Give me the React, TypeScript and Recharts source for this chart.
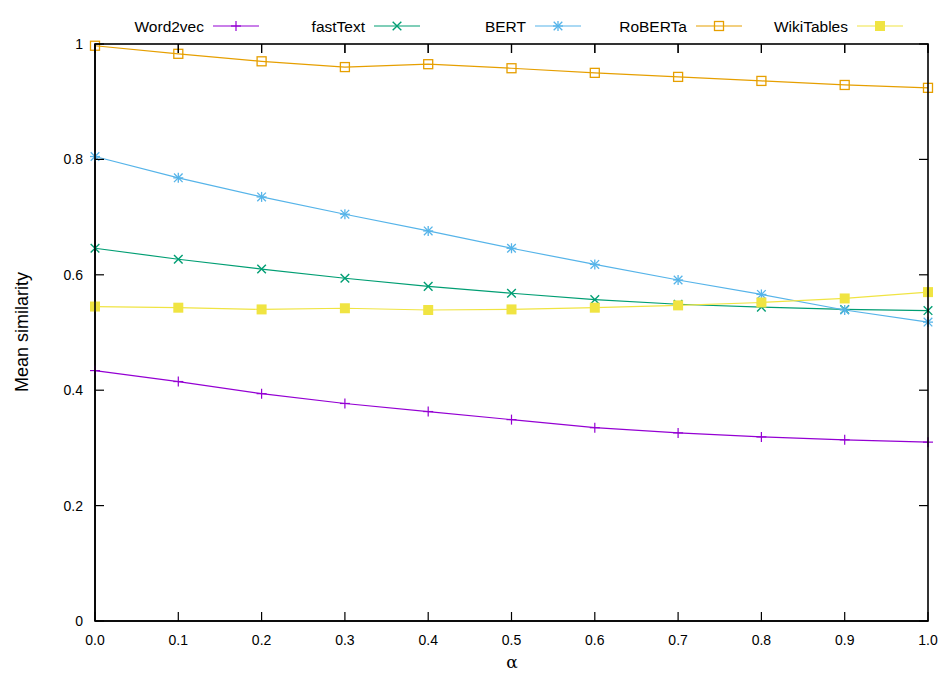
import { LineChart, Line, XAxis, YAxis } from "recharts"

// alpha values along the x axis
const alphas = [0, 0.1, 0.2, 0.3, 0.4, 0.5, 0.6, 0.7, 0.8, 0.9, 1.0]

// mean similarity per embedding model
const word2vec = [0.434, 0.415, 0.394, 0.377, 0.363, 0.349, 0.335, 0.326, 0.319, 0.314, 0.31]
const fastText = [0.646, 0.627, 0.61, 0.594, 0.58, 0.568, 0.557, 0.549, 0.544, 0.54, 0.538]
const bert = [0.805, 0.768, 0.735, 0.705, 0.676, 0.646, 0.618, 0.591, 0.566, 0.539, 0.518]
const roberta = [0.997, 0.983, 0.97, 0.96, 0.965, 0.958, 0.95, 0.943, 0.936, 0.929, 0.924]
const wikiTables = [0.545, 0.543, 0.54, 0.542, 0.539, 0.54, 0.543, 0.547, 0.552, 0.559, 0.57]

const xTicks = [0, 0.1, 0.2, 0.3, 0.4, 0.5, 0.6, 0.7, 0.8, 0.9, 1.0]
const yTicks = [0, 0.2, 0.4, 0.6, 0.8, 1]

type Shape = "plus" | "cross" | "star" | "square" | "filledSquare"

const series: { key: string; name: string; color: string; shape: Shape }[] = [
  { key: "word2vec", name: "Word2vec", color: "#9400d3", shape: "plus" },
  { key: "fastText", name: "fastText", color: "#009e73", shape: "cross" },
  { key: "bert", name: "BERT", color: "#56b4e9", shape: "star" },
  { key: "roberta", name: "RoBERTa", color: "#e69f00", shape: "square" },
  { key: "wikiTables", name: "WikiTables", color: "#f0e442", shape: "filledSquare" },
]

const data = alphas.map((alpha, i) => ({
  alpha,
  word2vec: word2vec[i],
  fastText: fastText[i],
  bert: bert[i],
  roberta: roberta[i],
  wikiTables: wikiTables[i],
}))

const W = 938
const H = 673
const X_AXIS_H = 52
const Y_AXIS_W = 95
const MARGIN = { top: 44, right: 10, bottom: 0, left: 0 }
// plot box, used for the border frame drawn over the chart
const PLOT_LEFT = MARGIN.left + Y_AXIS_W
const PLOT_TOP = MARGIN.top
const PLOT_RIGHT = W - MARGIN.right
const PLOT_BOTTOM = H - MARGIN.bottom - X_AXIS_H

const FONT = '"Liberation Sans", Arial, Helvetica, sans-serif'
const TICK = 9

function Marker({ shape, x, y, color }: { shape: Shape; x: number; y: number; color: string }) {
  const s = 5
  const d = 4.3
  const plus = (
    <>
      <line x1={x - s} y1={y} x2={x + s} y2={y} />
      <line x1={x} y1={y - s} x2={x} y2={y + s} />
    </>
  )
  const cross = (
    <>
      <line x1={x - d} y1={y - d} x2={x + d} y2={y + d} />
      <line x1={x - d} y1={y + d} x2={x + d} y2={y - d} />
    </>
  )
  switch (shape) {
    case "plus":
      return <g stroke={color} strokeWidth={1.2}>{plus}</g>
    case "cross":
      return <g stroke={color} strokeWidth={1.4}>{cross}</g>
    case "star":
      return (
        <g stroke={color} strokeWidth={1.3}>
          {plus}
          {cross}
        </g>
      )
    case "square":
      return <rect x={x - 4.5} y={y - 4.5} width={9} height={9} fill="none" stroke={color} strokeWidth={1.3} />
    case "filledSquare":
      return <rect x={x - 5} y={y - 5} width={10} height={10} fill={color} />
  }
}

// bottom tick also mirrors an inward tick on the top edge
function BottomTick({ x, y, payload }: any) {
  return (
    <g>
      <line x1={x} y1={y} x2={x} y2={y - TICK} stroke="#000" strokeWidth={1.2} />
      <line x1={x} y1={PLOT_TOP} x2={x} y2={PLOT_TOP + TICK} stroke="#000" strokeWidth={1.2} />
      <text x={x} y={y + 24} textAnchor="middle" fontSize={14} fontFamily={FONT} fill="#000">
        {Number(payload.value).toFixed(1)}
      </text>
    </g>
  )
}

function LeftTick({ x, y, payload }: any) {
  return (
    <g>
      <line x1={x} y1={y} x2={x + TICK} y2={y} stroke="#000" strokeWidth={1.2} />
      <line x1={PLOT_RIGHT} y1={y} x2={PLOT_RIGHT - TICK} y2={y} stroke="#000" strokeWidth={1.2} />
      <text x={x - 12} y={y + 5} textAnchor="end" fontSize={14} fontFamily={FONT} fill="#000">
        {String(payload.value)}
      </text>
    </g>
  )
}

function Annotations() {
  const span = PLOT_RIGHT - PLOT_LEFT
  return (
    <svg width={W} height={H} style={{ position: "absolute", left: 0, top: 0, pointerEvents: "none" }}>
      {series.map((s, i) => {
        const start = 213 + 161 * i
        const end = start + 46
        const mid = (start + end) / 2
        return (
          <g key={s.key}>
            <text x={start - 9} y={32} textAnchor="end" fontSize={15.5} fontFamily={FONT} fill="#000">
              {s.name}
            </text>
            <line x1={start} y1={26} x2={end} y2={26} stroke={s.color} strokeWidth={1.2} />
            <Marker shape={s.shape} x={mid} y={26} color={s.color} />
          </g>
        )
      })}
      <text transform="translate(28 332) rotate(-90)" textAnchor="middle" fontSize={18} fontFamily={FONT} fill="#000">
        Mean similarity
      </text>
      <text x={512} y={668} textAnchor="middle" fontSize={17} fontFamily='"DejaVu Serif", serif' fill="#000">
        α
      </text>
      {/* border frame with inward ticks along the top edge */}
      <rect
        x={PLOT_LEFT}
        y={PLOT_TOP}
        width={PLOT_RIGHT - PLOT_LEFT}
        height={PLOT_BOTTOM - PLOT_TOP}
        fill="none"
        stroke="#000"
        strokeWidth={1.6}
      />
      {xTicks.map((t) => (
        <line
          key={t}
          x1={PLOT_LEFT + t * span}
          y1={PLOT_TOP}
          x2={PLOT_LEFT + t * span}
          y2={PLOT_TOP + TICK}
          stroke="#000"
          strokeWidth={1.2}
        />
      ))}
    </svg>
  )
}

export default function App() {
  return (
    <div style={{ position: "absolute", left: 0, top: 0, width: W, height: H, background: "#fff" }}>
      <LineChart width={W} height={H} data={data} margin={MARGIN}>
        <XAxis
          dataKey="alpha"
          type="number"
          domain={[0, 1]}
          ticks={xTicks}
          interval={0}
          height={X_AXIS_H}
          tickSize={0}
          tickMargin={0}
          tick={<BottomTick />}
          axisLine={{ stroke: "#000", strokeWidth: 1.6 }}
          tickLine={false}
        />
        <YAxis
          type="number"
          domain={[0, 1]}
          ticks={yTicks}
          interval={0}
          width={Y_AXIS_W}
          tickSize={0}
          tickMargin={0}
          tick={<LeftTick />}
          axisLine={{ stroke: "#000", strokeWidth: 1.6 }}
          tickLine={false}
        />
        {series.map((s) => (
          <Line
            key={s.key}
            dataKey={s.key}
            name={s.name}
            type="linear"
            stroke={s.color}
            strokeWidth={1.2}
            isAnimationActive={false}
            dot={(p: any) => <Marker key={`${s.key}-${p.index}`} shape={s.shape} x={p.cx} y={p.cy} color={s.color} />}
            activeDot={false}
          />
        ))}
      </LineChart>
      <Annotations />
    </div>
  )
}
